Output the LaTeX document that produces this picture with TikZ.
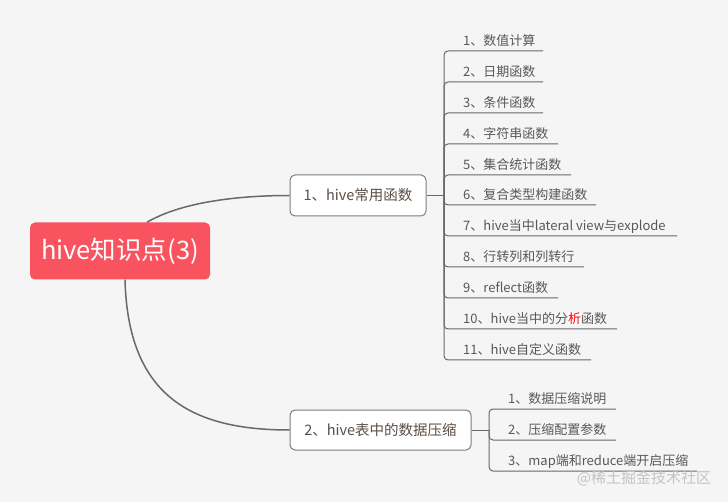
\documentclass[tikz,border=0pt]{standalone}
\usepackage{fontspec}
\setmainfont{Noto Sans CJK SC}
\definecolor{bgc}{RGB}{245,245,245}
\definecolor{rootred}{RGB}{248,83,94}
\definecolor{branchtxt}{RGB}{92,78,68}
\definecolor{itemtxt}{RGB}{88,88,88}
\definecolor{linec}{RGB}{105,105,105}
\definecolor{boxborder}{RGB}{125,125,125}
\definecolor{wmc}{RGB}{196,196,196}
\begin{document}
\begin{tikzpicture}[x=1pt,y=-1pt,
  rootbox/.style={fill=rootred, rounded corners=5pt, text=white, minimum width=180pt, minimum height=57pt, inner sep=0pt, font=\fontsize{25.5}{28}\selectfont},
  branch/.style={draw=boxborder, line width=1pt, fill=white, rounded corners=5pt, text=branchtxt, inner sep=0pt, font=\fontsize{14.5}{17}\selectfont},
  item/.style={anchor=south west, inner xsep=8pt, inner ysep=5.5pt, text depth=0pt, text=itemtxt, font=\fontsize{13}{15}\selectfont},
  main/.style={draw=linec, line width=1.5pt},
  sub/.style={draw=linec, line width=1pt, rounded corners=4pt},
  wm/.style={text=wmc, inner sep=0pt, font=\fontsize{15}{17}\selectfont}]
\fill[bgc] (0,0) rectangle (728,502);
\useasboundingbox (0,0) rectangle (728,502);

\node[rootbox] (root) at (120,251) {hive知识点(3)};
\node[branch, minimum width=136pt, minimum height=41pt] (b1) at (358,195.5) {1、hive常用函数};
\node[branch, minimum width=181pt, minimum height=40pt] (b2) at (380.5,430) {2、hive表中的数据压缩};

\draw[main] ([xshift=27pt]root.north) .. controls (178,204) and (230,195.5) .. (b1.west);
\draw[main] ([xshift=5pt]root.south) .. controls (128,395) and (190,430) .. (b2.west);

\coordinate (j1) at (444,195.5);
\draw[sub] (b1.east) -- (j1);
\foreach \i/\y/\w/\t in {1/51/99/{1、数值计算}, 2/82/99/{2、日期函数}, 3/113/99/{3、条件函数}, 4/144/114/{4、字符串函数}, 5/175/127/{5、集合统计函数}, 6/205/152/{6、复合类型构建函数}, 7/236/233/{7、hive当中lateral view与explode}, 8/267/140/{8、行转列和列转行}, 9/298/114/{9、reflect函数}, 10/329/173/{10、hive当中的分{\setlength\fboxsep{0pt}\colorbox{white}{\textcolor{red}{析}}}函数}, 11/360/147/{11、hive自定义函数}} {
  \node[item] (a\i) at (444,\y) {\hspace{11pt}\t};
  \draw[sub] (j1) |- ([xshift=\w pt]a\i.south west);
}

\coordinate (j2) at (489,430);
\draw[sub] (b2.east) -- (j2);
\foreach \i/\y/\w/\t in {1/409/127/{1、数据压缩说明}, 2/440/127/{2、压缩配置参数}, 3/471/208/{3、map端和reduce端开启压缩}} {
  \node[item] (c\i) at (489,\y) {\hspace{11pt}\t};
  \draw[sub] (j2) |- ([xshift=\w pt]c\i.south west);
}

\node[wm] (wm) at (644,478) {@稀土掘金技术社区};
\end{tikzpicture}
\end{document}
